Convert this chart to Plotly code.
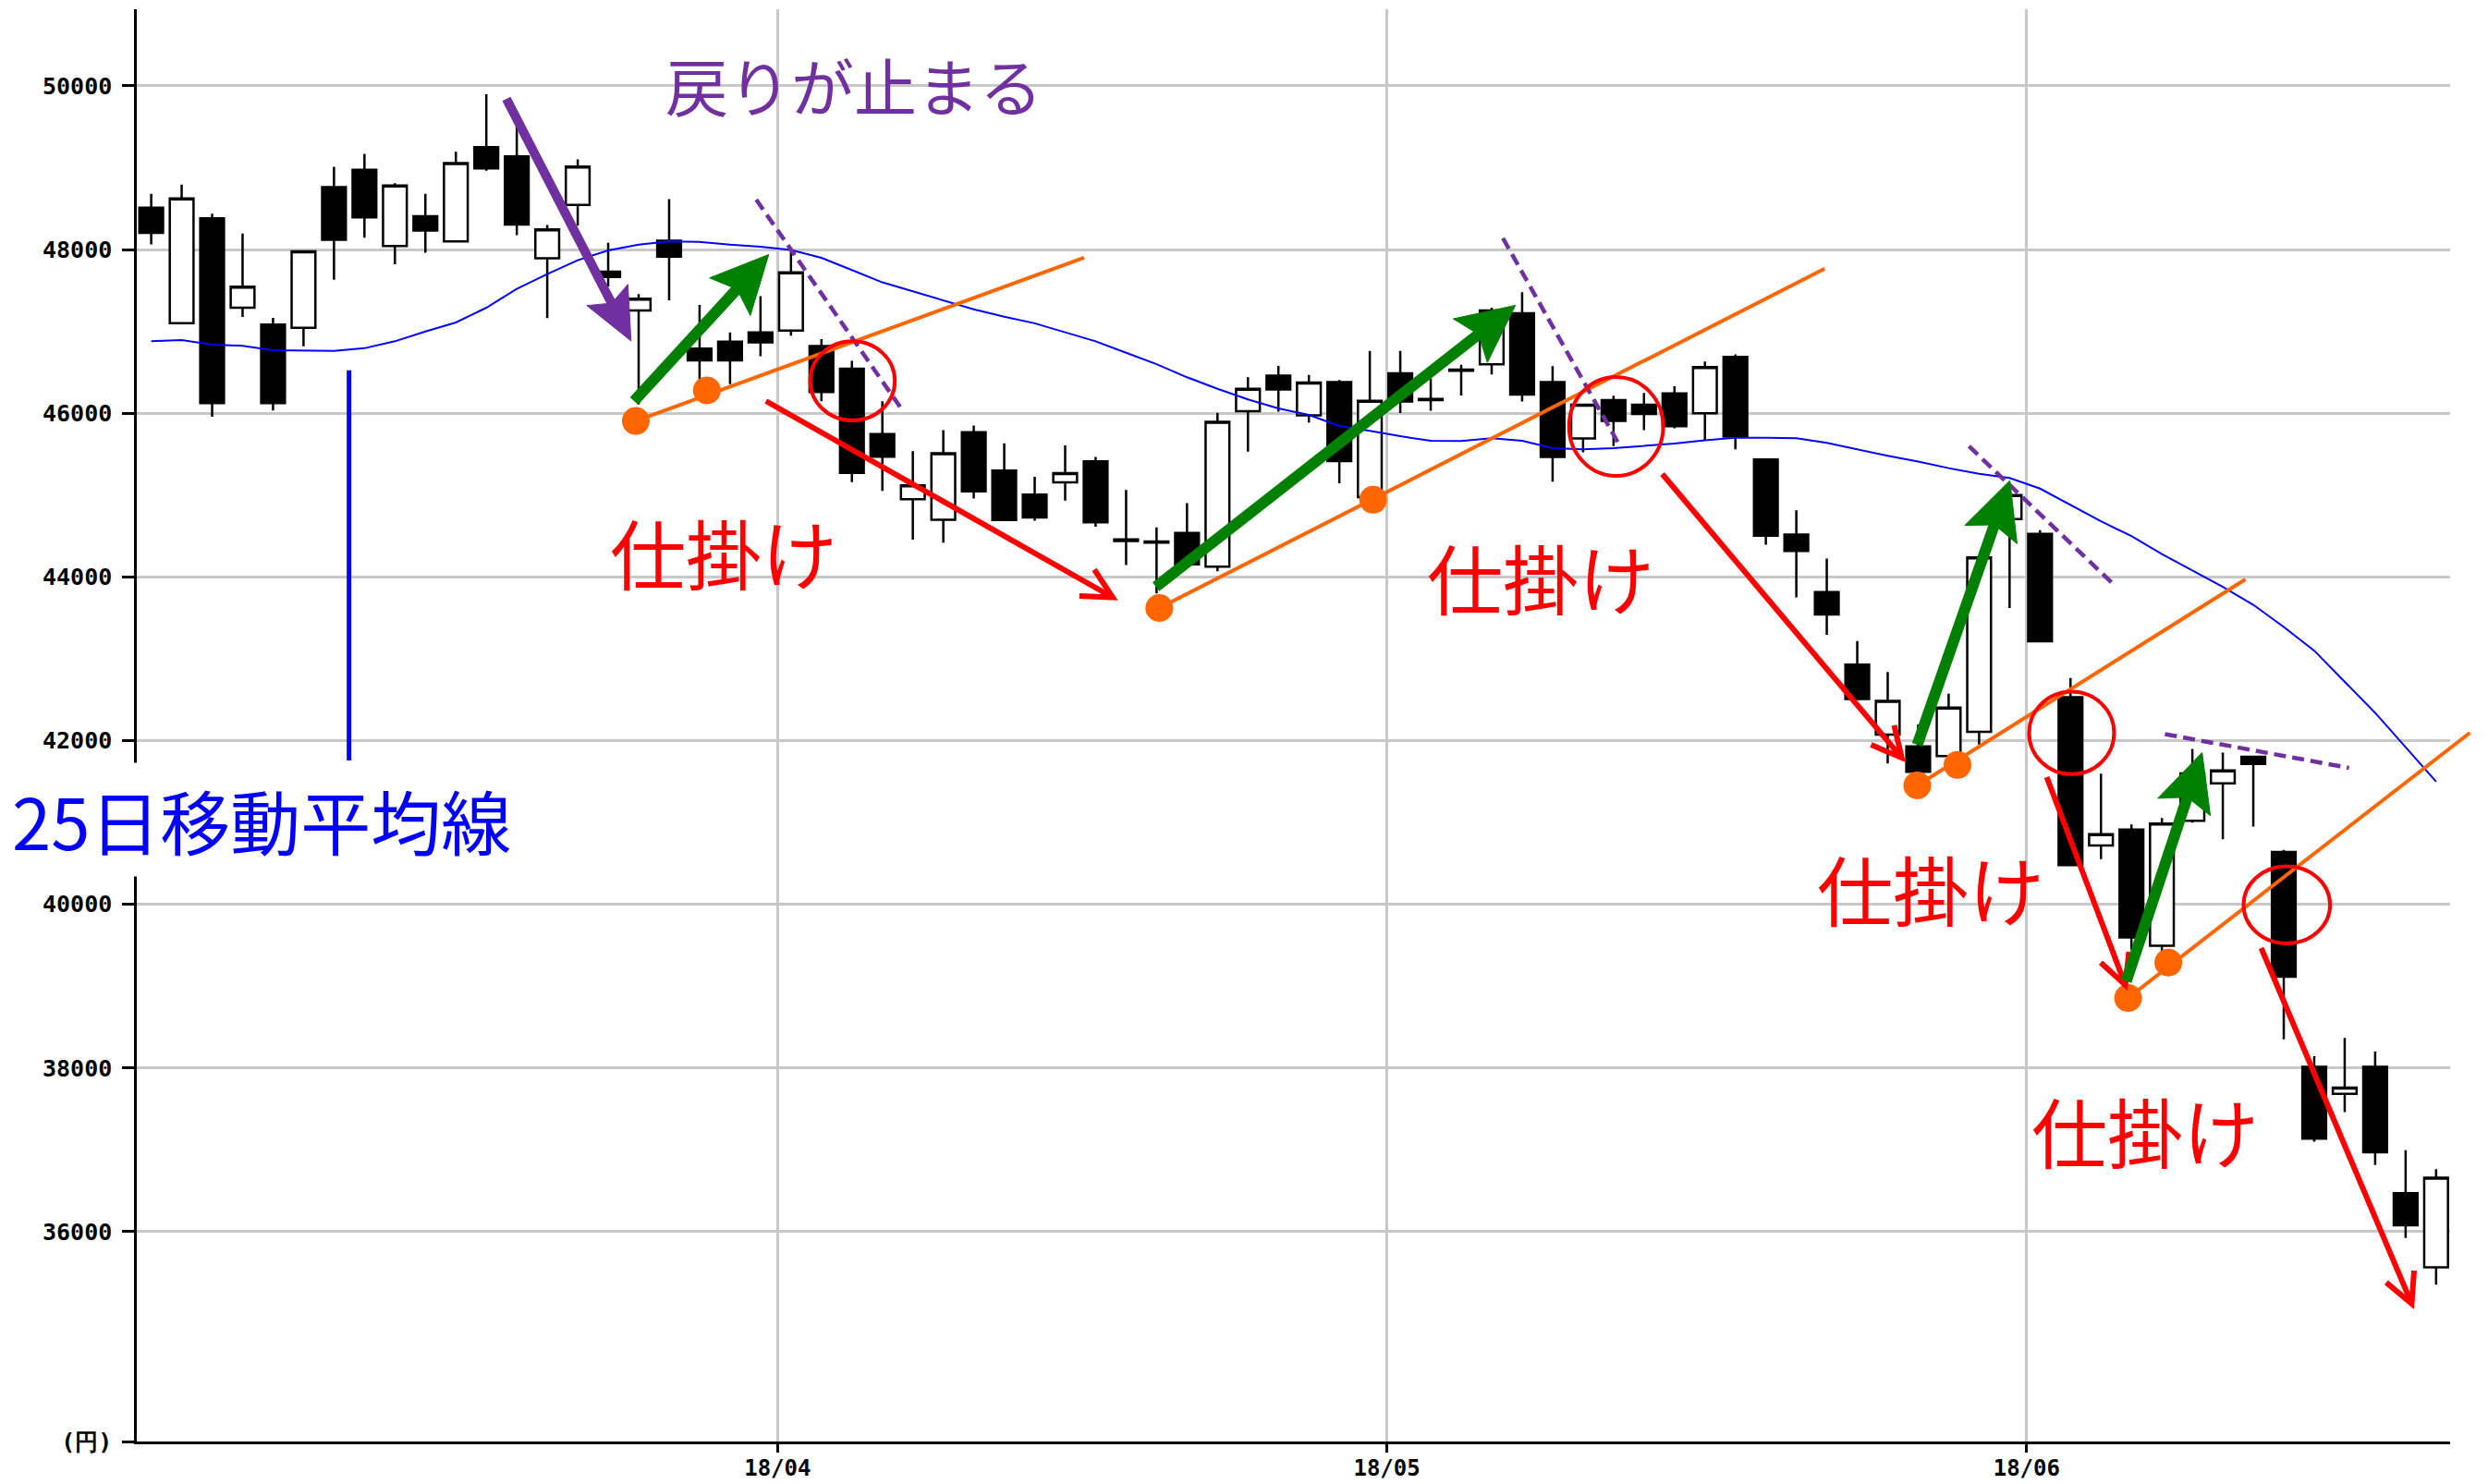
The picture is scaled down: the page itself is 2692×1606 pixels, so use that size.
import math
import pandas as pd
import plotly.graph_objects as go

# ---------------- data ----------------
holidays = {"2018-03-21", "2018-04-30", "2018-05-03", "2018-05-04"}
dates = [d.strftime("%Y-%m-%d") for d in pd.bdate_range("2018-03-01", "2018-06-20")
         if d.strftime("%Y-%m-%d") not in holidays]

open_ = [48513, 47101, 48382, 47289, 47083, 47045, 48764, 48974, 48045, 48408,
         48101, 49251, 49139, 47894, 48547, 47730, 47255, 48110, 46792, 46875,
         46989, 47012, 46822, 46545, 45747, 44949, 44700, 45768, 45300, 45008,
         45157, 45412, 44460, 44435, 44539, 44127, 46026, 46461, 45974, 46380,
         44977, 46489, 46175, 46535, 46600, 47222, 46380, 45692, 46162, 46105,
         46244, 46000, 46690, 45436, 44518, 43817, 42929, 42073, 41931, 41811,
         42108, 44708, 44527, 42530, 40718, 40915, 39494, 41020, 41478, 41804,
         40641, 38015, 37685, 38015, 36470, 35566]
high = [48682, 48794, 48438, 48195, 47165, 47990, 49011, 49169, 48813, 48682,
        49195, 49899, 49524, 48300, 49102, 48084, 47457, 48616, 47324, 46989,
        47430, 48000, 46906, 46640, 46146, 45538, 45794, 45850, 45633, 45225,
        45607, 45468, 45064, 44607, 44903, 46007, 46442, 46580, 46468, 46406,
        46763, 46763, 46425, 46594, 47290, 47478, 46575, 46110, 46215, 46248,
        46331, 46632, 46720, 45436, 44815, 44225, 43218, 42840, 42197, 42574,
        44260, 45050, 44571, 42765, 41597, 40977, 41054, 41900, 41855, 41814,
        40667, 38145, 38367, 38201, 36997, 36765]
low = [48064, 47101, 45959, 47176, 46034, 46820, 47633, 48146, 47820, 47963,
       48101, 48963, 48176, 47164, 48293, 47550, 46108, 47381, 46374, 46355,
       46697, 46950, 46146, 45158, 45051, 44455, 44420, 44959, 44690, 44689,
       44933, 44614, 44146, 43800, 44150, 44071, 45532, 46019, 45888, 45146,
       44950, 46004, 46030, 46218, 46474, 46143, 45165, 45522, 45600, 45793,
       45816, 45673, 45560, 44394, 43750, 43293, 42500, 41722, 41600, 41790,
       41953, 43620, 43209, 40470, 40553, 39450, 39400, 41000, 40796, 40951,
       38351, 37100, 37463, 36816, 35923, 35354]
close = [48206, 48626, 46124, 47547, 46124, 47978, 48120, 48393, 48783, 48232,
         49056, 48993, 48307, 48247, 49015, 47666, 47400, 47913, 46647, 46647,
         46868, 47723, 46260, 45272, 45469, 45120, 45513, 45045, 44697, 44727,
         45270, 44667, 44440, 44420, 44154, 45895, 46300, 46292, 46375, 45417,
         46154, 46143, 46160, 46520, 47255, 46229, 45466, 46105, 45906, 45992,
         45842, 46564, 45715, 44505, 44318, 43542, 42508, 42486, 41620, 42405,
         44238, 45000, 43215, 40480, 40858, 39597, 40987, 41600, 41638, 41716,
         39116, 37137, 37762, 36972, 36078, 36661]
ma25 = [46880, 46895, 46840, 46825, 46770, 46762, 46762, 46795, 46880, 47000,
        47110, 47290, 47520, 47700, 47870, 47990, 48060, 48100, 48095, 48060,
        48035, 47995, 47900, 47750, 47600, 47490, 47380, 47270, 47180, 47100,
        46990, 46880, 46740, 46600, 46440, 46300, 46170, 46060, 45980, 45845,
        45785, 45720, 45665, 45662, 45695, 45665, 45575, 45560, 45575, 45600,
        45630, 45670, 45700, 45700, 45695, 45640, 45560, 45480, 45410, 45330,
        45260, 45210, 45080, 44880, 44680, 44500, 44280, 44080, 43880, 43660,
        43390, 43100, 42720, 42340, 41920, 41500]

price_ticks = [36000, 38000, 40000, 42000, 44000, 46000, 48000, 50000]
month_labels = ["18/04", "18/05", "18/06"]
unit_label = "(円)"

# annotation geometry (x = trading-day index, y = price)
up_arrows = [(15.85, 46150, 20.27, 47940), (32.98, 43881, 44.78, 47319),
             (57.97, 41950, 61.01, 45179), (64.83, 39060, 67.32, 41854)]
down_arrows = [(20.18, 46150, 31.56, 43751), (49.6, 45258, 57.46, 41792),
               (62.22, 41555, 64.8, 39015), (69.26, 39466, 74.2, 35119)]
purple_arrow = (11.66, 49842, 15.75, 46884)
support_lines = [(15.906, 45906, 30.62, 47900), (33.09, 43621, 54.93, 47767),
                 (57.97, 41453, 68.74, 43971), (64.89, 38856, 76.11, 42097)]
dots_x = [15.906, 18.24, 33.09, 40.11, 57.97, 59.29, 64.89, 66.21]
dots_y = [45906, 46281, 43621, 44944, 41453, 41704, 38856, 39289]
dashed_lines = [(19.86, 48611, 24.61, 46063), (44.37, 48140, 48.24, 45580),
                (59.67, 45597, 64.40, 43915), (66.10, 42080, 72.14, 41668)]
circles = [(21.63, 45913, 24.41, 46880), (46.54, 45235, 49.63, 46444),
           (61.64, 41591, 64.43, 42599), (68.68, 39522, 71.52, 40464)]
ma_pointer = (6.494, 41758, 46526)
entry_text = "仕掛け"
entry_pos = [(18.79, 44310), (45.60, 44005), (58.40, 40200), (65.44, 37242)]
stop_text = "戻りが止まる"
stop_pos = (23.06, 50022)
ma_text = "25日移動平均線"
ma_pos = (3.637, 41030)

# ---------------- layout geometry ----------------
W, H = 2692, 1606
ML, MR, MT, MB = 148, 40.5, 10, 46
X_RANGE = [-0.473, 75.46]
Y_RANGE = [33437, 50937]
PW, PH = W - ML - MR, H - MT - MB

def to_px(x, y):
    return (ML + (x - X_RANGE[0]) / (X_RANGE[1] - X_RANGE[0]) * PW,
            MT + (Y_RANGE[1] - y) / (Y_RANGE[1] - Y_RANGE[0]) * PH)

def to_paper(p):
    return ((p[0] - ML) / PW, (H - MB - p[1]) / PH)

def line_shape(p0, p1, color, width, dash=None):
    a, b = to_paper(p0), to_paper(p1)
    ln = dict(color=color, width=width)
    if dash:
        ln["dash"] = dash
    return dict(type="line", xref="paper", yref="paper", x0=a[0], y0=a[1],
                x1=b[0], y1=b[1], line=ln)

def path_str(pts, close_path=True):
    s = "M " + " L ".join("%.6f,%.6f" % to_paper(p) for p in pts)
    return s + (" Z" if close_path else "")

shapes = []
for x0, y0, x1, y1 in support_lines:
    shapes.append(line_shape(to_px(x0, y0), to_px(x1, y1), "#FF6600", 4))
for x0, y0, x1, y1 in dashed_lines:
    shapes.append(line_shape(to_px(x0, y0), to_px(x1, y1), "#7030A0", 4.5, "13px,7px"))
shapes.append(line_shape(to_px(ma_pointer[0], ma_pointer[1]),
                         to_px(ma_pointer[0], ma_pointer[2]), "#0000FF", 5))
for x0, y0, x1, y1 in circles:
    a, b = to_paper(to_px(x0, y0)), to_paper(to_px(x1, y1))
    shapes.append(dict(type="circle", xref="paper", yref="paper", x0=a[0], y0=a[1],
                       x1=b[0], y1=b[1], line=dict(color="#FF0000", width=4)))

def unit(T, P):
    dx, dy = P[0] - T[0], P[1] - T[1]
    L = math.hypot(dx, dy)
    return dx / L, dy / L

for x0, y0, x1, y1 in down_arrows:
    T, P = to_px(x0, y0), to_px(x1, y1)
    ux, uy = unit(T, P)
    nx, ny = -uy, ux
    A, ang = 36, math.radians(27)
    c, s = math.cos(ang), math.sin(ang)
    a1 = (P[0] - A * (c * ux + s * nx), P[1] - A * (c * uy + s * ny))
    a2 = (P[0] - A * (c * ux - s * nx), P[1] - A * (c * uy - s * ny))
    shapes.append(line_shape(T, (P[0] - 2 * ux, P[1] - 2 * uy), "#FF0000", 6))
    shapes.append(dict(type="path", xref="paper", yref="paper",
                       path=path_str([a1, P, a2], close_path=False),
                       fillcolor="rgba(0,0,0,0)", line=dict(color="#FF0000", width=6)))

def filled_arrow(t, p, color, width, hl, hw):
    T, P = to_px(*t), to_px(*p)
    ux, uy = unit(T, P)
    nx, ny = -uy, ux
    B = (P[0] - hl * ux, P[1] - hl * uy)
    N = (P[0] - hl * 0.82 * ux, P[1] - hl * 0.82 * uy)
    b1 = (B[0] + hw * nx, B[1] + hw * ny)
    b2 = (B[0] - hw * nx, B[1] - hw * ny)
    shapes.append(line_shape(T, (N[0] + 3 * ux, N[1] + 3 * uy), color, width))
    shapes.append(dict(type="path", xref="paper", yref="paper",
                       path=path_str([P, b1, N, b2]), fillcolor=color,
                       line=dict(color=color, width=1)))

for a in up_arrows:
    filled_arrow(a[:2], a[2:], "#008000", 12, 62, 30)
filled_arrow(purple_arrow[:2], purple_arrow[2:], "#7030A0", 10, 56, 25)

# ---------------- figure ----------------
xi = list(range(len(dates)))
fig = go.Figure()
fig.add_trace(go.Candlestick(
    x=xi, open=open_, high=high, low=low, close=close,
    increasing=dict(line=dict(color="black", width=2.5), fillcolor="white"),
    decreasing=dict(line=dict(color="black", width=2.5), fillcolor="black"),
    whiskerwidth=0, showlegend=False, hoverinfo="skip"))
fig.add_trace(go.Scatter(x=xi, y=ma25, mode="lines",
                         line=dict(color="#0000FF", width=2), showlegend=False,
                         hoverinfo="skip"))
fig.add_trace(go.Scatter(x=dots_x, y=dots_y, mode="markers",
                         marker=dict(size=30, color="#FF6600"), showlegend=False,
                         hoverinfo="skip"))

month_pos = []
for lab in month_labels:
    m = "2018-" + lab.split("/")[1]
    first = next(i for i, d in enumerate(dates) if d.startswith(m))
    month_pos.append(first - 0.44)

cjk = "Noto Sans CJK JP"
annotations = []
for (x, y) in entry_pos:
    annotations.append(dict(x=x, y=y, xref="x", yref="y", text=entry_text, showarrow=False,
                            font=dict(family=cjk, size=82, color="#FF0000")))
annotations.append(dict(x=stop_pos[0], y=stop_pos[1], xref="x", yref="y", text=stop_text,
                        showarrow=False, font=dict(family=cjk, size=68, color="#7030A0")))
annotations.append(dict(x=ma_pos[0], y=ma_pos[1], xref="x", yref="y", text=ma_text,
                        showarrow=False, bgcolor="white", borderpad=6,
                        font=dict(family=cjk, size=76, color="#0000FF")))

tickfont = dict(family="DejaVu Sans Mono", size=25, color="black", weight="bold")
xtickfont = dict(family="DejaVu Sans Mono", size=24, color="black", weight="bold")
fig.update_layout(
    width=W, height=H, autosize=False,
    margin=dict(l=ML, r=MR, t=MT, b=MB, pad=0, autoexpand=False),
    paper_bgcolor="white", plot_bgcolor="white",
    boxgap=0.22, boxgroupgap=0,
    shapes=shapes, annotations=annotations,
    xaxis=dict(range=X_RANGE, tickmode="array", tickvals=month_pos, ticktext=month_labels,
               showgrid=True, gridcolor="#C8C8C8", gridwidth=2.5, zeroline=False,
               showline=True, linecolor="black", linewidth=2.5, automargin=False,
               ticks="outside", ticklen=9, tickwidth=2.5, tickcolor="black",
               tickfont=xtickfont, ticklabelstandoff=-4,
               rangeslider=dict(visible=False), fixedrange=True),
    yaxis=dict(range=Y_RANGE, tickmode="array",
               tickvals=[Y_RANGE[0]] + price_ticks,
               ticktext=[unit_label] + [str(v) for v in price_ticks],
               showgrid=True, gridcolor="#C8C8C8", gridwidth=2.5, zeroline=False,
               showline=True, linecolor="black", linewidth=2.5, automargin=False,
               ticks="outside", ticklen=13, tickwidth=2.5, tickcolor="black",
               tickfont=tickfont, ticklabelstandoff=6, fixedrange=True),
)
fig.write_html("out.html", config={"displayModeBar": False},
               post_script="document.body.style.margin='0';document.body.style.overflow='hidden';")
